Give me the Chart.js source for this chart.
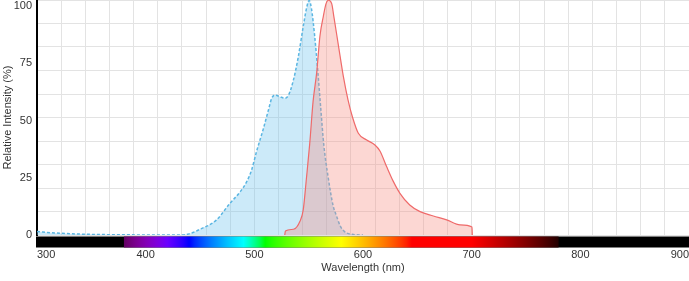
<!DOCTYPE html>
<html><head><meta charset="utf-8">
<script src="https://cdn.jsdelivr.net/npm/chart.js@4/dist/chart.umd.min.js"></script>
<style>html,body{margin:0;padding:0;background:#fff;overflow:hidden}</style>
</head><body>
<canvas id="c" width="689" height="281"></canvas>
<script>
// Excitation (blue, dashed)
const exWavelengths = [300,316,340,358,380,404,430,440,450,465,477.5,487,493,497.5,502,508,513,516,519,523.5,528,531.5,536,540.5,545,548.5,550.5,552.5,555.5,558.5,561,564,568,572.5,575.5,579,583,590,600];
const exValues      = [1.5,0.9,0.4,0.2,0.1,0,0,0.5,2.5,6.5,13.8,18.9,23.3,28.4,36.4,45.9,54.6,59.7,61.1,60.4,59.7,61.1,67.7,77.9,91,100,102.4,99,87,71,56,39,25,12.8,8.5,4,1.5,0.3,0];
// Emission (red, solid)
const emWavelengths = [528,528.6,536,542,545,548,551,554,557.4,560.4,563.5,566,568.2,571.2,573.3,577.3,582,586.2,590.3,595.7,603.4,611,615.6,621.8,628,634,643,652.5,664.7,677,689.3,700.3,700.6];
const emValues      = [0,1.7,2.5,6,11,25,40,58,71,87,95.5,101,102.5,101,95,83,69,59,51.5,44.4,41.5,39.3,36.7,29.8,23.3,18.2,13.1,10.2,8.3,6.6,4.4,3.5,0];

const xTickValues = [300,400,500,600,700,800,900];
const yTickValues = [0,25,50,75,100];
const xGridDivisions = 27;
const yGridDivisions = 10;

const FONT = "'Liberation Sans', Arial, sans-serif";

function wlColor(w){
  let r,g,b;
  if (w < 380 || w > 780) return 'rgb(0,0,0)';
  if (w < 440){ r=-(w-440)/60; g=0; b=1; }
  else if (w < 490){ r=0; g=(w-440)/50; b=1; }
  else if (w < 510){ r=0; g=1; b=-(w-510)/20; }
  else if (w < 580){ r=(w-510)/70; g=1; b=0; }
  else if (w < 645){ r=1; g=-(w-645)/65; b=0; }
  else { r=1; g=0; b=0; }
  let f;
  if (w < 420) f = 0.3 + 0.7*(w-380)/40;
  else if (w <= 700) f = 1;
  else f = 0.08 + 0.92*(780-w)/80;
  const c = v => Math.round(255*Math.pow(Math.max(0,v*f),0.8));
  return `rgb(${c(r)},${c(g)},${c(b)})`;
}

const spectrumBar = {
  id:'spectrumBar',
  afterDatasetsDraw(chart){
    const {ctx, chartArea, scales} = chart;
    const x = scales.x;
    const top = chartArea.bottom + 1.5, h = 11;
    ctx.save();
    ctx.fillStyle = '#000';
    ctx.fillRect(chartArea.left-1, top, chartArea.right-chartArea.left+1, h);
    const x0 = x.getPixelForValue(380), x1 = x.getPixelForValue(780);
    const grad = ctx.createLinearGradient(x0,0,x1,0);
    for (let w=380; w<=780; w+=5) grad.addColorStop((w-380)/400, wlColor(w));
    ctx.fillStyle = grad;
    ctx.fillRect(x0, top, x1-x0, h);
    ctx.restore();
  }
};

const pts = (xs, ys) => xs.map((v,i)=>({x:v, y:ys[i]}));

new Chart(document.getElementById('c'), {
  type:'line',
  data:{datasets:[
    {label:'Excitation', data:pts(exWavelengths, exValues), order:2,
     borderColor:'#5bb6e2', borderWidth:1.5, borderDash:[3,2],
     backgroundColor:'rgba(120,200,240,0.38)', fill:'origin',
     pointRadius:0, cubicInterpolationMode:'monotone'},
    {label:'Emission', data:pts(emWavelengths, emValues), order:1,
     borderColor:'#ef6a6a', borderWidth:1.2,
     backgroundColor:'rgba(245,140,130,0.35)', fill:'origin',
     pointRadius:0, cubicInterpolationMode:'monotone'}
  ]},
  options:{
    responsive:false, animation:false, devicePixelRatio:1,
    layout:{padding:0},
    plugins:{legend:{display:false}, tooltip:{enabled:false}},
    scales:{
      x:{type:'linear', position:'bottom', min:300, max:900,
         afterBuildTicks:s=>{s.ticks = xTickValues.map(v=>({value:v}));},
         afterFit:s=>{s.height=46; s.paddingLeft=0; s.paddingRight=0;},
         grid:{display:false, drawTicks:false}, border:{display:false},
         ticks:{align:'inner', padding:13, color:'#333', font:{family:FONT,size:11}, maxRotation:0, autoSkip:false},
         title:{display:true, text:'Wavelength (nm)', color:'#333', font:{family:FONT,size:11}, padding:{top:0,bottom:6}}},
      y:{type:'linear', position:'left', min:0, max:102.6,
         afterBuildTicks:s=>{s.ticks = yTickValues.map(v=>({value:v}));},
         afterFit:s=>{s.width=37; s.paddingTop=0; s.paddingBottom=0;},
         grid:{display:false, drawTicks:false}, border:{display:true, color:'#000', width:2},
         ticks:{padding:5, color:'#333', font:{family:FONT,size:11}},
         title:{display:true, text:'Relative Intensity (%)', color:'#333', font:{family:FONT,size:11}, padding:{top:1,bottom:0}}},
      gx:{type:'linear', position:'top', min:0, max:xGridDivisions,
          afterBuildTicks:s=>{const t=[]; for(let i=0;i<=xGridDivisions;i++) t.push({value:i}); s.ticks=t;},
          afterFit:s=>{s.height=0; s.paddingLeft=0; s.paddingRight=0;},
          ticks:{display:false}, grid:{color:'#e3e3e3', drawTicks:false, lineWidth:1}, border:{display:false}},
      gy:{type:'linear', position:'right', min:0, max:yGridDivisions,
          afterBuildTicks:s=>{const t=[]; for(let i=0;i<=yGridDivisions;i++) t.push({value:i}); s.ticks=t;},
          afterFit:s=>{s.width=0; s.paddingTop=0; s.paddingBottom=0;},
          ticks:{display:false}, grid:{color:'#e3e3e3', drawTicks:false, lineWidth:1}, border:{display:false}}
    }
  },
  plugins:[spectrumBar]
});
</script>
</body></html>
